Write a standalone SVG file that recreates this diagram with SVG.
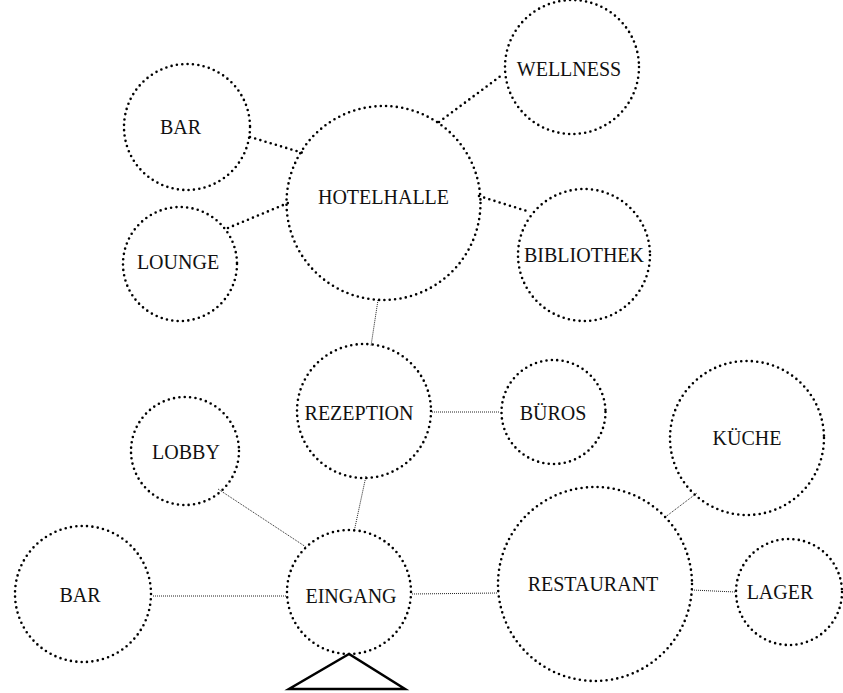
<svg xmlns="http://www.w3.org/2000/svg" width="843" height="693" viewBox="0 0 843 693">
  <style>
    .node circle { fill: none; stroke: #000; stroke-width: 2.6; stroke-dasharray: 0 5.4; stroke-linecap: round; }
    .node text { font-family: 'Liberation Serif', 'Times New Roman', serif; font-size: 20px; fill: #111; text-anchor: middle; }
    .link-bold { stroke: #000; stroke-width: 2.6; stroke-dasharray: 0 5.4; stroke-linecap: round; fill: none; }
    .link-fine { stroke: #222; stroke-width: 1; stroke-dasharray: 1 1; fill: none; }
    .entry { fill: none; stroke: #000; stroke-width: 2.5; }
  </style>
  <rect width="843" height="693" fill="#fff"/>

  <!-- links between rooms -->
  <g id="connectors">
    <line class="link-bold" x1="250" y1="137" x2="303" y2="153"/>
    <line class="link-bold" x1="228" y1="228" x2="288" y2="203"/>
    <line class="link-bold" x1="439" y1="122" x2="502" y2="75"/>
    <line class="link-bold" x1="479" y1="196" x2="530" y2="212"/>
    <line class="link-fine" x1="378" y1="300" x2="371" y2="346"/>
    <line class="link-fine" x1="432" y1="412" x2="500" y2="412"/>
    <line class="link-fine" x1="218" y1="489" x2="306" y2="547"/>
    <line class="link-fine" x1="366" y1="476" x2="354" y2="532"/>
    <line class="link-fine" x1="153" y1="596" x2="286" y2="596"/>
    <line class="link-fine" x1="412" y1="594" x2="498" y2="593"/>
    <line class="link-fine" x1="664" y1="518" x2="697" y2="493"/>
    <line class="link-fine" x1="692" y1="590" x2="735" y2="592"/>
  </g>

  <!-- rooms -->
  <g id="hotelhalle" class="node"><circle cx="383.5" cy="203" r="97"/><text x="383.5" y="204">HOTELHALLE</text></g>
  <g id="wellness" class="node"><circle cx="572" cy="67" r="67"/><text x="569" y="76">WELLNESS</text></g>
  <g id="bar-top" class="node"><circle cx="187" cy="127" r="63"/><text x="180.5" y="134">BAR</text></g>
  <g id="lounge" class="node"><circle cx="180" cy="264" r="57"/><text x="178" y="269">LOUNGE</text></g>
  <g id="bibliothek" class="node"><circle cx="584" cy="255" r="66"/><text x="584" y="262">BIBLIOTHEK</text></g>
  <g id="rezeption" class="node"><circle cx="364" cy="411" r="67"/><text x="359" y="420">REZEPTION</text></g>
  <g id="bueros" class="node"><circle cx="553.5" cy="412" r="52"/><text x="553" y="420">BÜROS</text></g>
  <g id="lobby" class="node"><circle cx="185" cy="451" r="54"/><text x="186" y="459">LOBBY</text></g>
  <g id="kueche" class="node"><circle cx="747" cy="438" r="77"/><text x="747" y="445">KÜCHE</text></g>
  <g id="restaurant" class="node"><circle cx="595" cy="584" r="97"/><text x="593" y="591">RESTAURANT</text></g>
  <g id="lager" class="node"><circle cx="789" cy="592" r="53"/><text x="780" y="599">LAGER</text></g>
  <g id="bar-bottom" class="node"><circle cx="83" cy="594" r="68"/><text x="80" y="602">BAR</text></g>
  <g id="eingang" class="node"><circle cx="349" cy="592" r="62"/><text x="351" y="603">EINGANG</text></g>

  <!-- entrance arrow -->
  <g id="entrance-marker">
    <polygon class="entry" points="349,654 289,689 405,689"/>
  </g>
</svg>
